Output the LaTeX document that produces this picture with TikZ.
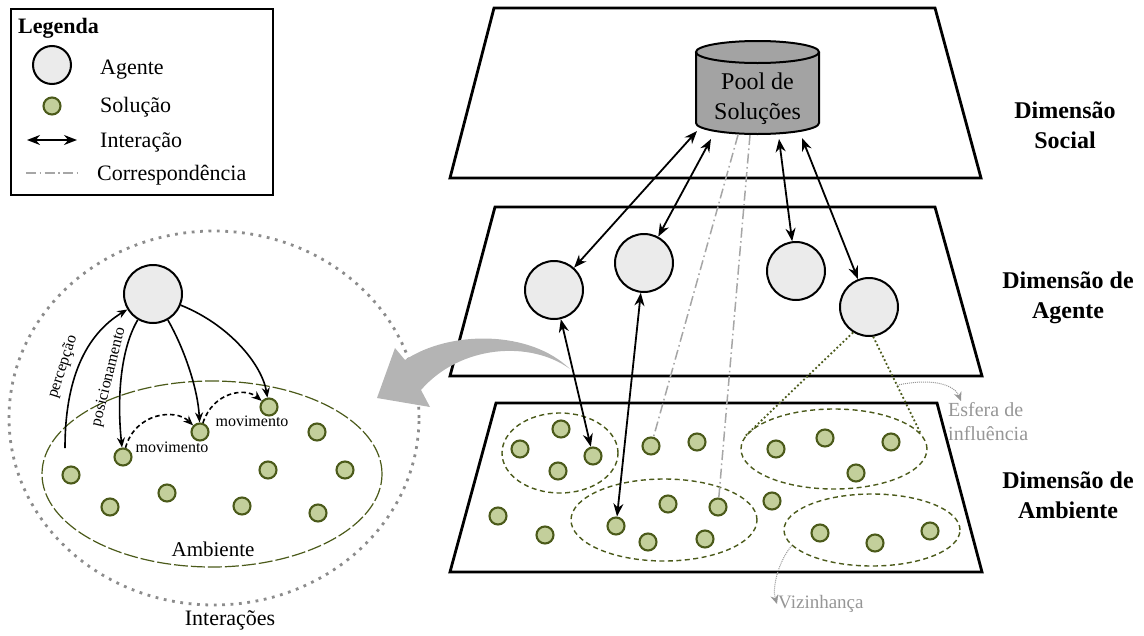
\documentclass[tikz,border=0pt]{standalone}
\usepackage{fontspec}
\setmainfont{Liberation Serif}
\usetikzlibrary{arrows.meta,shapes.geometric,calc}

\definecolor{oliveline}{HTML}{4B5A1A}
\definecolor{solfill}{HTML}{C3CF9B}
\definecolor{agentfill}{HTML}{EBEBEB}
\definecolor{cylfill}{HTML}{A3A3A3}
\definecolor{corrgray}{HTML}{A6A6A6}
\definecolor{annogray}{HTML}{969696}
\definecolor{dotgray}{HTML}{8C8C8C}
\definecolor{bigarrow}{HTML}{B4B4B4}

\begin{document}
\begin{tikzpicture}[x=1pt,y=-1pt,
  plane/.style={draw, line width=2.8pt, line join=miter},
  agent/.style={circle, draw, line width=2pt, fill=agentfill, minimum size=58pt, inner sep=0pt},
  legagent/.style={agent, minimum size=38pt},
  sol/.style={circle, draw=oliveline, line width=2.1pt, fill=solfill, minimum size=17pt, inner sep=0pt},
  ia/.style={{Stealth[length=13pt,width=10pt]}-{Stealth[length=13pt,width=10pt]}, line width=1.8pt},
  flow/.style={-{Stealth[length=10pt,width=8pt]}, line width=1.6pt},
  moveflow/.style={flow, dash pattern=on 4.5pt off 3pt},
  corr/.style={draw=corrgray, line width=1.5pt, dash pattern=on 10pt off 3.5pt on 1.6pt off 3.5pt},
  hood/.style={ellipse, draw=oliveline, line width=1.4pt, dash pattern=on 5pt off 3.5pt, inner sep=0pt},
  envring/.style={ellipse, draw=oliveline, line width=1.2pt, dash pattern=on 14pt off 3pt, inner sep=0pt},
  interring/.style={ellipse, draw=dotgray, line width=2.8pt, dash pattern=on 2.8pt off 5.6pt, inner sep=0pt},
  infl/.style={draw=oliveline, line width=1.8pt, dash pattern=on 1.8pt off 2.4pt},
  anno/.style={draw=annogray, line width=1pt, dash pattern=on 1pt off 1pt, -{Stealth[length=9pt,width=8pt,fill=annogray]}},
  annotxt/.style={text=annogray, font=\fontsize{20}{24}\selectfont, inner sep=1pt},
  dimtxt/.style={font=\fontsize{24}{30}\selectfont\bfseries, align=center},
  legtxt/.style={font=\fontsize{22}{26}\selectfont, anchor=base west, inner sep=0pt},
  smalltxt/.style={font=\fontsize{16}{19}\selectfont, inner sep=0pt}
]
\useasboundingbox (0,0) rectangle (1144,635);

% ---------- the three planes ----------
\draw[plane] (494,8) -- (935,8) -- (981,178) -- (450,178) -- cycle;
\draw[plane] (495,207) -- (935,207) -- (982,376) -- (450,376) -- cycle;
\draw[plane] (496,403) -- (937,403) -- (982,572) -- (450,572) -- cycle;

% ---------- solution pool (cylinder) ----------
\fill[cylfill] (696,52) rectangle (819,123);
\fill[cylfill] (757.5,123) ellipse[x radius=61.5, y radius=11];
\fill[cylfill] (757.5,52) ellipse[x radius=61.5, y radius=11];
\draw[line width=2pt] (757.5,52) ellipse[x radius=61.5, y radius=11];
\draw[line width=2pt] (696,52) -- (696,123)
  arc[start angle=180, end angle=0, x radius=61.5, y radius=11] -- (819,52);
\node[font=\fontsize{24}{30}\selectfont, align=center] (pool) at (757.5,99) {Pool de\\Soluções};
\coordinate (pa1) at (697,131);
\coordinate (pa2) at (711,139);
\coordinate (pa3) at (779,139);
\coordinate (pa4) at (802,138);
\coordinate (pc1) at (738,135);
\coordinate (pc2) at (750,135);

% ---------- agents ----------
\node[agent] (a1) at (554,290) {};
\node[agent] (a2) at (644,263) {};
\node[agent] (a3) at (796,271) {};
\node[agent] (a4) at (869,307) {};

% ---------- environment: neighbourhoods and solutions ----------
\node[hood, minimum width=116pt, minimum height=80pt] (e1) at (560,453) {};
\node[hood, minimum width=186pt, minimum height=82pt] (e2) at (664,520) {};
\node[hood, minimum width=186pt, minimum height=80pt] (e3) at (834,449) {};
\node[hood, minimum width=176pt, minimum height=72pt] (e4) at (872,530) {};

\node[sol] (b1) at (520,449) {};
\node[sol] (b2) at (561,429) {};
\node[sol] (b3) at (593,456) {};
\node[sol] (b4) at (558,471) {};
\node[sol] (b5) at (651,446) {};
\node[sol] (b6) at (697,442) {};
\node[sol] (b7) at (498,516) {};
\node[sol] (b8) at (545,535) {};
\node[sol] (b9) at (616,526) {};
\node[sol] (b10) at (668,504) {};
\node[sol] (b11) at (648,542) {};
\node[sol] (b12) at (705,539) {};
\node[sol] (b13) at (718,507) {};
\node[sol] (b14) at (776,449) {};
\node[sol] (b15) at (825,438) {};
\node[sol] (b16) at (891,442) {};
\node[sol] (b17) at (856,473) {};
\node[sol] (b18) at (772,501) {};
\node[sol] (b19) at (820,533) {};
\node[sol] (b20) at (875,543) {};
\node[sol] (b21) at (930,531) {};

% ---------- interactions and correspondences ----------
\draw[ia] (pa1) -- (a1);
\draw[ia] (pa2) -- (a2);
\draw[ia] (pa3) -- (a3);
\draw[ia] (pa4) -- (a4);
\draw[ia] (a1) -- (b3);
\draw[ia] (a2) -- (b9);
\draw[corr] (pc1) -- (b5);
\draw[corr] (pc2) -- (b13);
\draw[infl] (a4.238) -- (e3.172);
\draw[infl] (a4.278) -- (e3.10);

% ---------- annotations ----------
\coordinate (espt) at ($(a4.278)!0.5!(e3.10)$);
\coordinate (esftip) at (961,401);
\node[annotxt, anchor=north west, align=left] (esf) at (947,401) {Esfera de\\influência};
\draw[anno] (espt) .. controls (935,377) and (955,386) .. (esftip);
\node[annotxt, font=\fontsize{19}{22}\selectfont, anchor=west] (viz) at (777,604) {Vizinhança};
\draw[anno] (e4.191) .. controls (778,562) and (772,588) .. (viz.west);

% ---------- dimension labels ----------
\node[dimtxt] (dsoc) at (1065,125) {Dimensão\\Social};
\node[dimtxt] (dage) at (1068,298) {Dimensão de\\Agente};
\node[dimtxt] (damb) at (1068,495) {Dimensão de\\Ambiente};

% ---------- detail of the interactions ----------
\node[interring, minimum width=410pt, minimum height=374pt] (inter) at (214,418) {};
\node[envring, minimum width=340pt, minimum height=186pt] (amb) at (212,474) {};
\node[agent] (ag) at (153,294) {};
\node[sol] (l1) at (71,475) {};
\node[sol] (l2) at (123,457) {};
\node[sol] (l3) at (200,432) {};
\node[sol] (l4) at (269,407) {};
\node[sol] (l5) at (317,432) {};
\node[sol] (l6) at (268,470) {};
\node[sol] (l7) at (345,470) {};
\node[sol] (l8) at (110,507) {};
\node[sol] (l9) at (167,493) {};
\node[sol] (l10) at (242,506) {};
\node[sol] (l11) at (318,513) {};

\coordinate (pstart) at (65,448);
\draw[flow] (pstart) .. controls (65,380) and (85,335) .. (ag);
\draw[flow] (ag) .. controls (120,350) and (117,400) .. (l2);
\draw[flow] (ag) .. controls (185,350) and (198,390) .. (l3);
\draw[flow] (ag) .. controls (230,325) and (262,365) .. (l4);
\draw[moveflow] (l2) .. controls (135,413) and (175,408) .. (l3);
\draw[moveflow] (l3) .. controls (213,392) and (245,387) .. (l4);

\node[smalltxt, rotate=72] (lperc) at (63,367) {percepção};
\node[smalltxt, rotate=76] (lpos) at (109,377) {posicionamento};
\node[smalltxt] (lmov1) at (172,447) {movimento};
\node[smalltxt] (lmov2) at (252,421) {movimento};
\node[font=\fontsize{21}{25}\selectfont, inner sep=0pt] (lamb) at (213,549) {Ambiente};
\node[font=\fontsize{22}{26}\selectfont, inner sep=0pt] (linter) at (230,620) {Interações};

% ---------- zoom arrow from the agent plane ----------
\fill[bigarrow] (570,369) .. controls (530,330) and (450,330) .. (405,360)
  -- (395,348) -- (377,398) -- (430,407) -- (421,390)
  .. controls (460,345) and (530,340) .. (570,369) -- cycle;

% ---------- legend ----------
\draw[line width=2pt] (11,9) rectangle (273,195);
\node[legtxt, font=\fontsize{22}{26}\selectfont\bfseries] (legt) at (18,33) {Legenda};
\node[legagent] (lg1) at (52,65) {};
\node[legtxt] (lg1t) at (100,74) {Agente};
\node[sol] (lg2) at (52,106) {};
\node[legtxt] (lg2t) at (100,112) {Solução};
\coordinate (lg3a) at (27,140);
\coordinate (lg3b) at (77,140);
\draw[ia] (lg3a) -- (lg3b);
\node[legtxt] (lg3t) at (100,147) {Interação};
\coordinate (lg4a) at (26,173);
\coordinate (lg4b) at (79,173);
\draw[corr] (lg4a) -- (lg4b);
\node[legtxt] (lg4t) at (97,180) {Correspondência};
\end{tikzpicture}
\end{document}
